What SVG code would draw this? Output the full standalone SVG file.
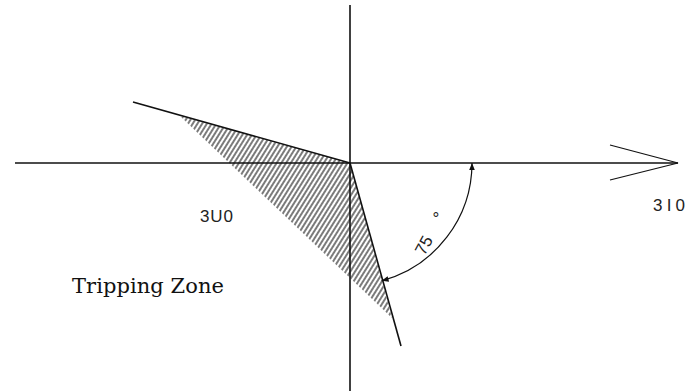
<svg xmlns="http://www.w3.org/2000/svg" width="686" height="391" viewBox="0 0 686 391">
<style>
.ln{stroke:#111;stroke-width:1.6;fill:none}
.thin{stroke:#111;stroke-width:1.2;fill:none}
.sans{font-family:"Liberation Sans",Arial,sans-serif;font-size:17px;fill:#222}
.serif{font-family:"DejaVu Serif","Liberation Serif",serif;font-size:21px;fill:#111}
</style>
<defs>
<pattern id="hatch" width="4" height="4" patternUnits="userSpaceOnUse" patternTransform="rotate(32)">
<line x1="1" y1="0" x2="1" y2="4" stroke="#333" stroke-width="1.3"/>
</pattern>
<marker id="ah" viewBox="0 0 10 10" refX="10" refY="5" markerWidth="13" markerHeight="7" markerUnits="userSpaceOnUse" orient="auto-start-reverse">
<path d="M0,1 L10,5 L0,9 Z" fill="#111"/>
</marker>
</defs>
<rect width="686" height="391" fill="#fff"/>
<g id="zone">
<polygon points="180,116 350,163 392,318" fill="url(#hatch)"/>
</g>
<g id="connectors">
<line class="ln" x1="15" y1="163" x2="678" y2="163"/>
<line class="ln" x1="350" y1="5" x2="350" y2="391"/>
<polyline class="thin" points="610,145 678,163 610,180"/>
<line class="ln" x1="133" y1="102" x2="350" y2="163"/>
<line class="ln" x1="350" y1="163" x2="401" y2="346"/>
<path class="thin" d="M472,163 A122,122 0 0 1 381.6,280.8" marker-start="url(#ah)" marker-end="url(#ah)"/>
</g>
<g id="labels">
<text class="sans" x="200" y="222" textLength="33">3U0</text>
<text class="sans" x="653" y="211" textLength="32">3I0</text>
<text class="serif" x="72" y="293" textLength="152">Tripping Zone</text>
<text class="sans" transform="translate(429,248) rotate(-62)" text-anchor="middle" font-size="16">75</text>
<text class="sans" x="436" y="224" text-anchor="middle" font-size="11">°</text>
</g>
</svg>
